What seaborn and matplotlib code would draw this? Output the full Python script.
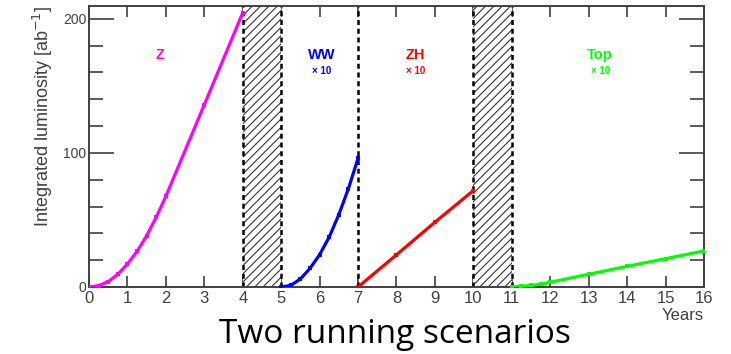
import pandas as pd
import seaborn as sns
import matplotlib.pyplot as plt
from matplotlib.ticker import MultipleLocator

# Data (integrated luminosity, ab^-1)
z_years = [0, 0.25, 0.5, 0.75, 1, 1.25, 1.5, 1.75, 2, 3, 4]
z_lumi = [0, 1, 4, 9.5, 17.2, 26.6, 38.3, 52.2, 67.7, 136, 204.5]
ww_years = [5, 5.25, 5.5, 5.75, 6, 6.25, 6.5, 6.75, 7]
ww_lumi = [0, 1.2, 6, 13.9, 24.1, 37.3, 54, 73.4, 96]
zh_years = [7, 8, 9, 10]
zh_lumi = [0, 24, 48.3, 71.9]
top_years = [11, 11.25, 11.5, 11.75, 12, 13, 14, 15, 16]
top_lumi = [0, 0.5, 1.2, 2.2, 3.5, 9.5, 15.4, 21.1, 26.9]

stages = ['Z', 'WW', 'ZH', 'Top']
colors = ['#ff00ff', '#0000ff', '#ff0000', '#00ff00']
label_x = [1.85, 6.05, 8.5, 13.3]
scaled = [False, True, True, True]
shutdowns = [(4, 5), (10, 11)]
boundaries = [4, 5, 7, 10, 11]

frames = []
for name, xs, ys in zip(stages, [z_years, ww_years, zh_years, top_years],
                        [z_lumi, ww_lumi, zh_lumi, top_lumi]):
    frames.append(pd.DataFrame({'year': xs, 'lumi': ys, 'stage': name}))
df = pd.concat(frames, ignore_index=True)

sns.set_style('ticks')
plt.rcParams['font.family'] = ['Liberation Sans', 'DejaVu Sans']
plt.rcParams['hatch.linewidth'] = 0.8
plt.rcParams['hatch.color'] = '#333333'

fig = plt.figure(figsize=(7.31, 3.54), dpi=100)
ax = fig.add_axes([0.1218, 0.1893, 0.8412, 0.7937])

# shutdown periods
for a, b in shutdowns:
    ax.axvspan(a, b, facecolor='white', edgecolor='#333333', hatch='////', lw=0, zorder=1)
for xb in boundaries:
    ax.axvline(xb, color='black', ls=(0, (2, 1.5)), lw=1.8, zorder=2)

sns.lineplot(data=df, x='year', y='lumi', hue='stage', palette=dict(zip(stages, colors)),
             marker='s', markersize=3.4, markeredgewidth=0, lw=2.3, legend=False,
             ax=ax, zorder=3, sort=False, estimator=None)

for name, c, lx, sc in zip(stages, colors, label_x, scaled):
    ax.text(lx, 173, name, color=c, fontsize=10.5, fontweight='bold', ha='center', va='center')
    if sc:
        ax.text(lx, 161, '× 10', color=c, fontsize=7, fontweight='bold', ha='center', va='center')

ax.set_xlim(0, 16)
ax.set_ylim(0, 209.5)
ax.xaxis.set_major_locator(MultipleLocator(1))
ax.yaxis.set_major_locator(MultipleLocator(100))
ax.yaxis.set_minor_locator(MultipleLocator(20))
ax.tick_params(axis='both', which='both', direction='in', colors='#404040',
               labelcolor='#404040')
ax.tick_params(axis='y', which='major', length=18, width=1.2, right=True, labelsize=10, pad=2)
ax.tick_params(axis='y', which='minor', length=10, width=1.2, right=True)
ax.tick_params(axis='x', which='major', length=8, width=1.2, top=True, labelsize=12, pad=3)
for sp in ax.spines.values():
    sp.set_color('#404040')
    sp.set_linewidth(1.4)

ax.set_xlabel('Years', fontsize=12, color='#404040', loc='right', labelpad=1)
ax.set_ylabel('Integrated luminosity [ab$^{-1}$]', fontsize=13, color='#404040',
              loc='top', labelpad=6)

fig.text(0.54, 0.031, 'Two running scenarios', fontsize=24, ha='center', va='baseline',
         family=['Open Sans', 'DejaVu Sans'], color='black')

plt.savefig('out.png', dpi=100)
